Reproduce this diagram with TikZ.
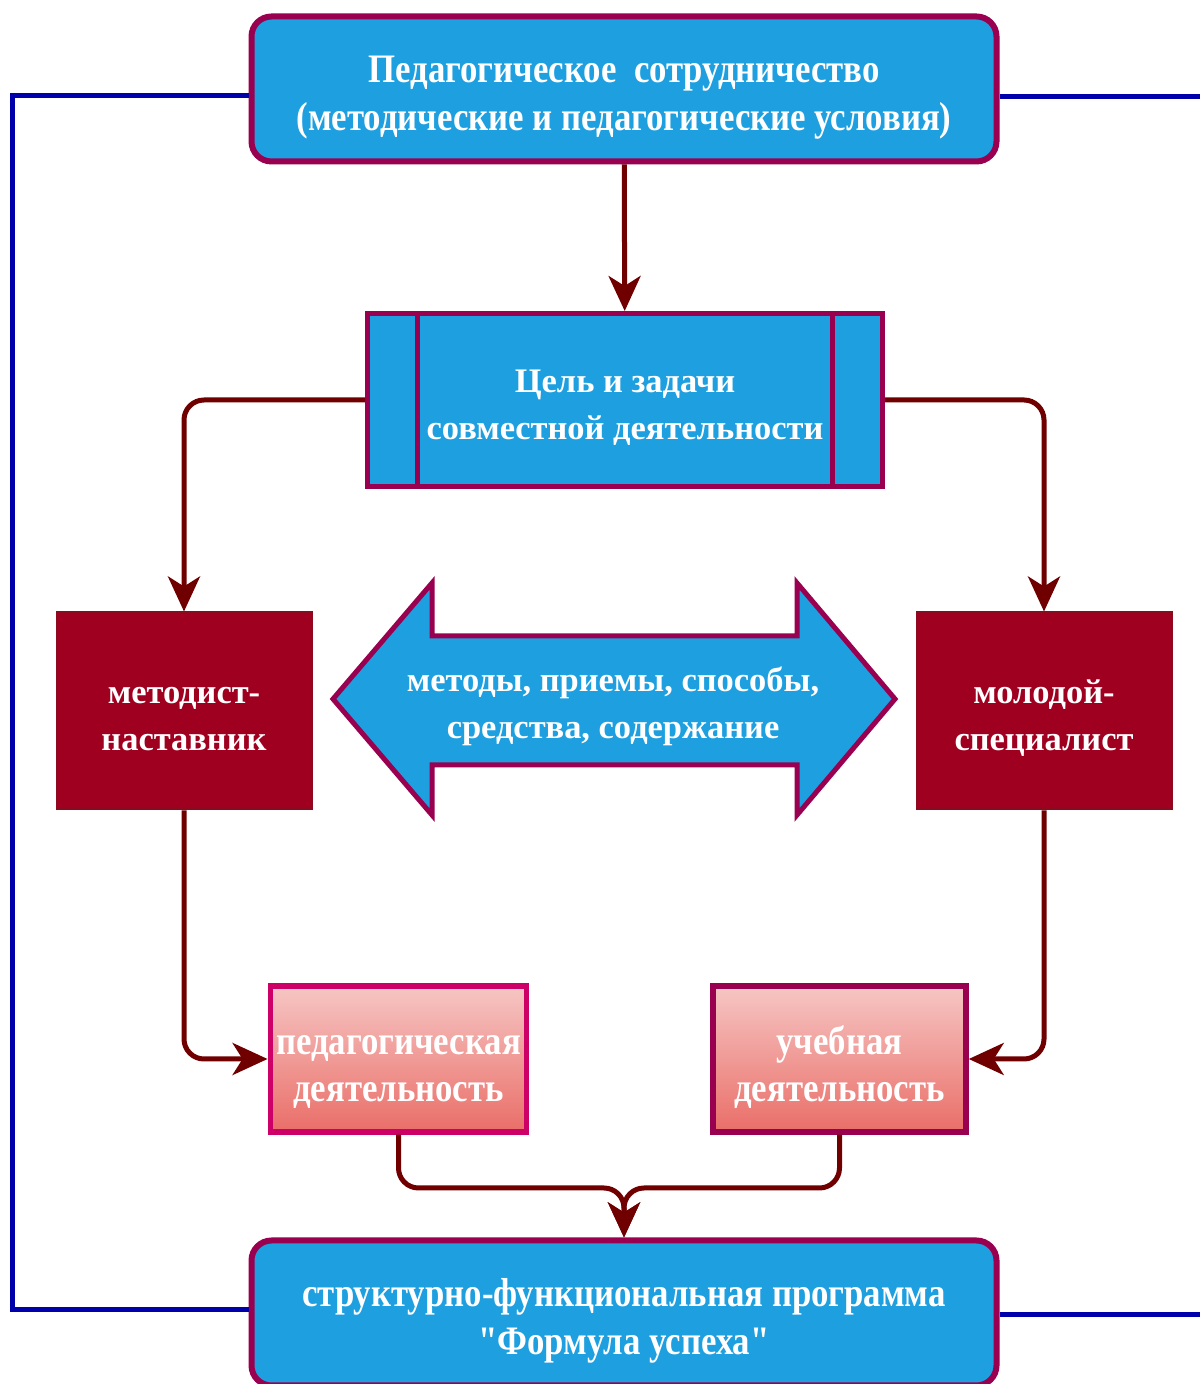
\documentclass[tikz,border=0pt]{standalone}
\usepackage{fontspec}
\setmainfont{Liberation Serif}
\newfontfamily\narrowfont{Liberation Serif}[FakeStretch=0.86]
\usetikzlibrary{arrows.meta}
\definecolor{boxblue}{RGB}{30,160,224}
\definecolor{framemag}{RGB}{153,0,80}
\definecolor{pedframe}{RGB}{204,0,102}
\definecolor{linkred}{RGB}{112,0,0}
\definecolor{rolered}{RGB}{160,0,32}
\definecolor{roleframe}{RGB}{140,10,30}
\definecolor{loopblue}{RGB}{0,0,170}
\definecolor{pinktop}{RGB}{246,198,196}
\definecolor{pinkbot}{RGB}{234,110,104}

\begin{document}
\begin{tikzpicture}[
  font=\bfseries\fontsize{19.6}{27}\selectfont,
  narrow/.style={font=\narrowfont\bfseries\fontsize{23}{27}\selectfont},
  bluebox/.style={draw=framemag, line width=1.2mm, fill=boxblue, rounded corners=4mm,
    minimum width=14.9cm, minimum height=2.9cm, text=white, align=center, narrow,
    text height=1.85cm, text depth=0.2cm},
  goalbox/.style={draw=framemag, line width=1mm, fill=boxblue, minimum width=10.3cm,
    minimum height=3.46cm, text=white, align=center, text height=1.78cm, text depth=0.2cm,
    path picture={
      \draw[framemag, line width=1mm]
        ([xshift=1cm]path picture bounding box.north west) -- ([xshift=1cm]path picture bounding box.south west)
        ([xshift=-1cm]path picture bounding box.north east) -- ([xshift=-1cm]path picture bounding box.south east);
    }},
  rolebox/.style={draw=roleframe, line width=0.4mm, fill=rolered, minimum width=5.1cm,
    minimum height=3.94cm, text=white, align=center, text height=1.8cm, text depth=0.2cm},
  actbox/.style={line width=1.1mm, top color=pinktop, bottom color=pinkbot,
    minimum width=5.06cm, minimum height=2.92cm, text=white, align=center, narrow,
    text height=1.9cm, text depth=0.2cm},
  link/.style={linkred, line width=1mm, rounded corners=4mm,
    -{Stealth[length=7mm, width=6.4mm, inset=2mm]}},
  loop/.style={loopblue, line width=1mm},
  dblarrow/.style={draw=framemag, line width=1mm, fill=boxblue, line join=miter}
]
\useasboundingbox (0,0) rectangle (24,27.68);

% Main boxes
\node[bluebox] (top) at (12.48,25.9) {Педагогическое\ \ сотрудничество\\(методические и педагогические условия)};
\node[goalbox] (cel) at (12.5,19.68) {Цель и задачи\\совместной деятельности};
\node[rolebox] (meth) at (3.68,13.46) {методист-\\наставник};
\node[rolebox] (mol) at (20.88,13.46) {молодой-\\специалист};
\node[actbox, draw=pedframe] (ped) at (7.97,6.5) {педагогическая\\деятельность};
\node[actbox, draw=framemag] (uch) at (16.79,6.5) {учебная\\деятельность};
\node[bluebox] (bot) at (12.48,1.42) {структурно-функциональная программа\\"Формула успеха"};

% Double arrow
\draw[dblarrow] (6.66,13.70) -- (8.64,16.02) -- (8.64,14.96) -- (15.94,14.96) -- (15.94,16.02)
  -- (17.90,13.70) -- (15.94,11.38) -- (15.94,12.38) -- (8.64,12.38) -- (8.64,11.38) -- cycle;
\node[text=white, align=center] (ways) at (12.26,13.55) {методы, приемы, способы,\\средства, содержание};

% Blue frame lines
\coordinate (edgeL) at (0.26,13);
\coordinate (edgeR) at (24.3,13);
\draw[loop] ([yshift=-0.14cm]top.west) -| (edgeL) |- ([yshift=0.06cm]bot.west);
\draw[loop] ([yshift=-0.16cm]top.east) -- ([yshift=-0.16cm]top.east -| edgeR);
\draw[loop] ([yshift=-0.04cm]bot.east) -- ([yshift=-0.04cm]bot.east -| edgeR);

% Connectors
\coordinate (merge) at (12.48,3.92);
\draw[link] (top) -- (cel);
\draw[link] (cel.west) -| (meth.north);
\draw[link] (cel.east) -| (mol.north);
\draw[link] (meth.south) |- (ped.west);
\draw[link] (mol.south) |- (uch.east);
\draw[link] (ped.south) |- (merge) -- (bot.north);
\draw[link] (uch.south) |- (merge) -- (bot.north);

\end{tikzpicture}
\end{document}
